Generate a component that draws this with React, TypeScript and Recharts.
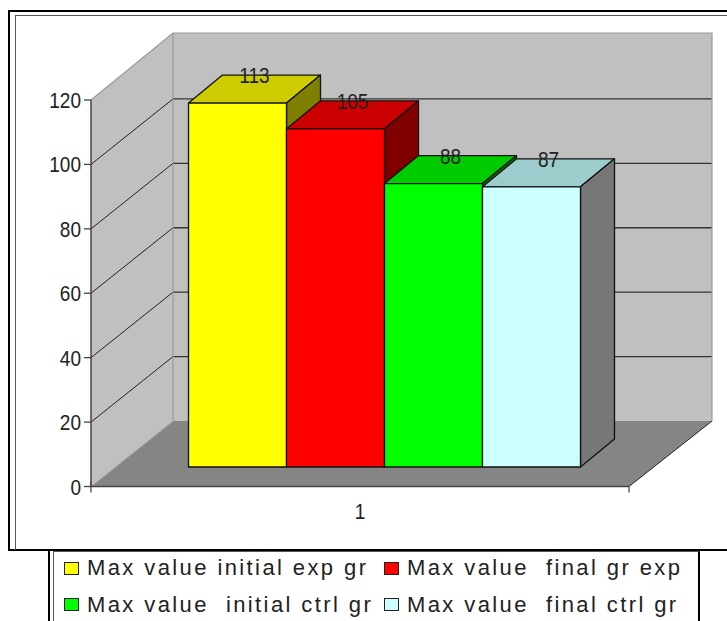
import React from 'react';
import { BarChart, Bar, XAxis, YAxis, ReferenceArea, LabelList, Legend } from 'recharts';

const categories = ['1'];
const seriesNames = [
  'Max value initial exp gr',
  'Max value  final gr exp',
  'Max value  initial ctrl gr',
  'Max value  final ctrl gr',
];
const seriesValues = [113, 105, 88, 87];
const frontColors = ['#FFFF00', '#FF0000', '#00FF00', '#CCFFFF'];
const topColors = ['#CCCC00', '#CC0000', '#00CC00', '#9CCCCC'];
const sideColors = ['#808000', '#800000', '#008000', '#777777'];
const yTicks = [0, 20, 40, 60, 80, 100, 120];
const data = categories.map((c) => {
  const row: Record<string, string | number> = { category: c };
  seriesValues.forEach((v, i) => { row[`s${i}`] = v; });
  return row;
});

const FONT = '"Liberation Sans", Arial, sans-serif';
const TEXT = '#222222';
const WALL_DX = 82;
const WALL_DY = -65.5;
const WALL_TOP_EXTRA = -1.5;
const BAR_SHIFT_X = 24.5;
const BAR_SHIFT_Y = -19.5;
const DEPTH_X = 34;
const DEPTH_Y = -28;

function StretchedText({ x, y, anchor, children }: any) {
  return (
    <text
      transform={`translate(${x},${y}) scale(1,1.15)`}
      textAnchor={anchor}
      dominantBaseline="central"
      fontFamily={FONT}
      fontSize={19}
      fill={TEXT}
    >
      {children}
    </text>
  );
}

function AxisTick(props: any) {
  const { x, y, payload, textAnchor } = props;
  return <StretchedText x={x} y={y} anchor={textAnchor}>{payload.value}</StretchedText>;
}

function Walls(props: any) {
  const { x, y, width, height } = props;
  const bottom = y + height;
  const right = x + width;
  const bx = x + WALL_DX;
  const perUnit = height / 120;
  const wallTop = y + WALL_DY + WALL_TOP_EXTRA;
  return (
    <g>
      <polygon points={`${x},${y} ${bx},${wallTop} ${bx},${bottom + WALL_DY} ${x},${bottom}`} fill="#C0C0C0" />
      <rect x={bx} y={wallTop} width={width + 1} height={bottom + WALL_DY - wallTop} fill="#C0C0C0" />
      <polygon points={`${x},${bottom} ${bx},${bottom + WALL_DY} ${right + WALL_DX + 1},${bottom + WALL_DY} ${right},${bottom}`} fill="#858585" />
      {yTicks.filter((t) => t > 0 && t < 120).map((t) => {
        const ty = bottom - t * perUnit;
        return (
          <g key={t}>
            <line x1={x} y1={ty} x2={bx} y2={ty + WALL_DY} stroke="#111" strokeWidth={0.9} />
            <line x1={bx} y1={ty + WALL_DY} x2={right + WALL_DX + 1} y2={ty + WALL_DY} stroke="#333" strokeWidth={1.3} />
          </g>
        );
      })}
      <polyline points={`${x},${y} ${bx},${wallTop} ${right + WALL_DX + 1},${wallTop} ${right + WALL_DX + 1},${bottom + WALL_DY}`} fill="none" stroke="#999" strokeWidth={1.2} />
      <line x1={bx} y1={wallTop} x2={bx} y2={bottom + WALL_DY} stroke="#999" strokeWidth={1.2} />
      <line x1={x} y1={bottom} x2={bx} y2={bottom + WALL_DY} stroke="#aaa" strokeWidth={1} />
      <line x1={right} y1={bottom} x2={right + WALL_DX + 1} y2={bottom + WALL_DY} stroke="#222" strokeWidth={1} />
      <line x1={x} y1={bottom - 5} x2={x} y2={bottom + 6} stroke="#444" strokeWidth={1.3} />
      <line x1={right} y1={bottom} x2={right} y2={bottom + 6} stroke="#444" strokeWidth={1.3} />
    </g>
  );
}

function makeShape(i: number) {
  return function Bar3D(props: any) {
    const { x, y, width, height } = props;
    const l = x + BAR_SHIFT_X;
    const t = y + BAR_SHIFT_Y;
    const r = l + width;
    const b = t + height;
    return (
      <g stroke="#111" strokeWidth={1.3} strokeLinejoin="round">
        <polygon points={`${l},${t} ${l + DEPTH_X},${t + DEPTH_Y} ${r + DEPTH_X},${t + DEPTH_Y} ${r},${t}`} fill={topColors[i]} />
        <polygon points={`${r},${t} ${r + DEPTH_X},${t + DEPTH_Y} ${r + DEPTH_X},${b + DEPTH_Y} ${r},${b}`} fill={sideColors[i]} />
        <rect x={l} y={t} width={width} height={height} fill={frontColors[i]} />
      </g>
    );
  };
}

function ValueLabel(props: any) {
  const { x, y, width, value } = props;
  return (
    <StretchedText
      x={x + BAR_SHIFT_X + width / 2 + DEPTH_X / 2}
      y={y + BAR_SHIFT_Y + DEPTH_Y}
      anchor="middle"
    >
      {value}
    </StretchedText>
  );
}

function LegendBox(props: any) {
  const items = props.payload || [];
  return (
    <div
      style={{
        position: 'relative',
        width: 650,
        height: 72,
        boxSizing: 'border-box',
        fontFamily: FONT,
        fontSize: 22,
        letterSpacing: 2.4,
        color: TEXT,
        whiteSpace: 'pre',
      }}
    >
      {items.map((it: any, i: number) => {
        const col = i % 2;
        const row = Math.floor(i / 2);
        return (
          <div key={i} style={{ position: 'absolute', left: col === 0 ? 15 : 335, top: 2 + row * 36.5, height: 28, display: 'flex', alignItems: 'center' }}>
            <span style={{ display: 'inline-block', width: 13, height: 11, background: it.color, border: '1.5px solid #222', marginRight: 8 }} />
            <span>{it.value}</span>
          </div>
        );
      })}
    </div>
  );
}

export default function App() {
  return (
    <div style={{ position: 'absolute', left: 0, top: 0, width: 727, height: 621, overflow: 'hidden', background: '#fff' }}>
      <div style={{ position: 'absolute', left: 8, top: 10, width: 800, height: 536.5, borderLeft: '2px solid #000', borderTop: '2px solid #000', borderBottom: '2.5px solid #000' }} />
      <div style={{ position: 'absolute', left: 14.5, top: 15, width: 800, height: 534, borderLeft: '1.5px solid #555', borderTop: '1.5px solid #555' }} />
      <div style={{ position: 'absolute', left: 48, top: 551, width: 648, height: 90, borderLeft: '2px solid #000', borderRight: '2px solid #000' }} />
      <div style={{ position: 'absolute', left: 52.5, top: 551, width: 645, height: 90, borderLeft: '1.5px solid #555', borderTop: '1.5px solid #555' }} />
      <BarChart
        width={727}
        height={621}
        data={data}
        margin={{ top: 100, right: 98, bottom: 100, left: 0 }}
        barCategoryGap={73}
        barGap={0}
        style={{ position: 'absolute', left: 0, top: 0 }}
      >
        <ReferenceArea y1={0} y2={120} ifOverflow="visible" shape={<Walls />} fill="none" stroke="none" />
        <XAxis
          dataKey="category"
          height={34.5}
          tickLine={false}
          axisLine={{ stroke: '#444', strokeWidth: 1.5 }}
          tick={<AxisTick />}
          tickMargin={18}
        />
        <YAxis
          width={91}
          domain={[0, 120]}
          ticks={yTicks}
          interval={0}
          axisLine={{ stroke: '#444', strokeWidth: 1.5 }}
          tickLine={{ stroke: '#444', strokeWidth: 1.3 }}
          tickSize={7}
          tickMargin={3}
          tick={<AxisTick />}
        />
        <Legend
          layout="horizontal"
          verticalAlign="middle"
          align="center"
          itemSorter="dataKey"
          content={<LegendBox />}
          wrapperStyle={{ position: 'absolute', left: 49, top: 552, width: 650, height: 72 }}
        />
        {seriesNames.map((name, i) => (
          <Bar
            key={name}
            dataKey={`s${i}`}
            name={name}
            fill={frontColors[i]}
            isAnimationActive={false}
            shape={makeShape(i)}
          >
            <LabelList dataKey={`s${i}`} content={<ValueLabel />} />
          </Bar>
        ))}
      </BarChart>
    </div>
  );
}
